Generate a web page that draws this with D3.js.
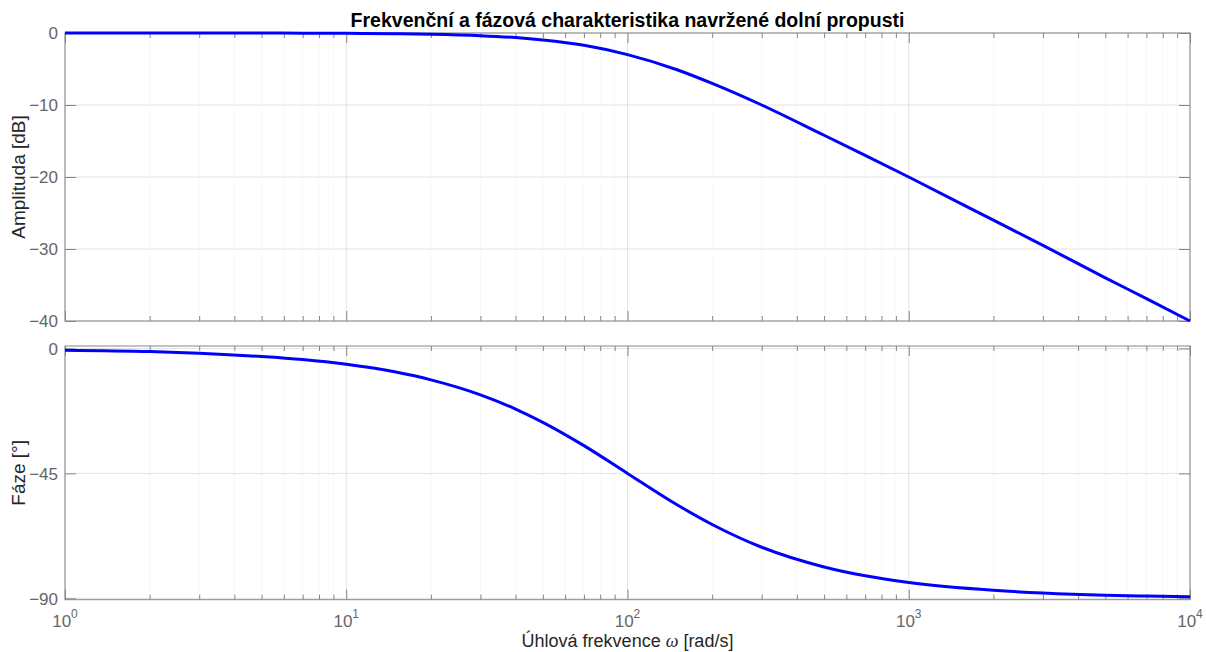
<!DOCTYPE html>
<html>
<head>
<meta charset="utf-8">
<script src="https://cdn.jsdelivr.net/npm/d3@7"></script>
<style>
  html, body { margin: 0; padding: 0; background: #fff; }
  svg { display: block; font-family: "Liberation Sans", Arial, Helvetica, sans-serif; }
</style>
</head>
<body>
<svg id="chart" width="1206" height="652"></svg>
<script>
// Frequency samples [rad/s] and the measured response of the low-pass filter
const omega = [1, 2, 3, 5, 7, 10, 15, 20, 30, 40, 50, 70, 100, 150, 200, 300, 500, 700,
               1000, 2000, 3000, 5000, 7000, 10000];
const amplitudeDb = [0, 0, 0, -0.01, -0.02, -0.04, -0.1, -0.17, -0.37, -0.64, -0.97, -1.7,
                     -3.0, -5.1, -7.0, -10.0, -14.2, -17.0, -20.0, -26.0, -29.5, -34.0, -36.9, -40.0];
const phaseDeg = [-0.6, -1.1, -1.7, -2.9, -4.0, -5.7, -8.5, -11.3, -16.7, -21.8, -26.6, -35.0,
                  -45.0, -56.3, -63.4, -71.6, -78.7, -81.9, -84.3, -87.1, -88.1, -88.9, -89.2, -89.4];

// Tick labels
const xDecades = [1, 10, 100, 1000, 10000];
const xDecadeExp = ["0", "1", "2", "3", "4"];
const ampTicks = [0, -10, -20, -30, -40];
const phaseTicks = [0, -45, -90];

const titleText = "Frekvenční a fázová charakteristika navržené dolní propusti";
const ampLabel = "Amplituda [dB]";
const phaseLabel = "Fáze [°]";

const svg = d3.select("#chart");

const left = 65, right = 1190;
const x = d3.scaleLog().domain([1, 1e4]).range([left, right]);
const yA = d3.scaleLinear().domain([-40, 0]).range([321, 33]);
const yP = d3.scaleLinear().domain([-90.5, 0.9]).range([599.7, 346]);

// minor log ticks 2..9 inside every decade
const minorX = [];
for (let d = 0; d < 4; d++) for (let m = 2; m <= 9; m++) minorX.push(m * Math.pow(10, d));

const frameColor = "#858585";
const tickTextColor = "#666666";
const labelColor = "#262626";

function panel(y, yTicks) {
  const [yb, yt] = y.range();
  const g = svg.append("g");

  // grid
  g.selectAll(".gmin").data(minorX).join("line")
    .attr("x1", d => x(d)).attr("x2", d => x(d))
    .attr("y1", yt).attr("y2", yb)
    .attr("stroke", "#e4e4e4").attr("stroke-width", 1)
    .attr("stroke-dasharray", "1,3");
  g.selectAll(".gmaj").data(xDecades).join("line")
    .attr("x1", d => x(d)).attr("x2", d => x(d))
    .attr("y1", yt).attr("y2", yb)
    .attr("stroke", "#e3e3e3").attr("stroke-width", 1);
  g.selectAll(".gy").data(yTicks).join("line")
    .attr("x1", left).attr("x2", right)
    .attr("y1", d => y(d)).attr("y2", d => y(d))
    .attr("stroke", "#e3e3e3").attr("stroke-width", 1);

  // inward ticks on all four sides
  [
    d3.axisBottom(x).tickValues(xDecades).tickSize(-10).tickFormat(""),
    d3.axisBottom(x).tickValues(minorX).tickSize(-5).tickFormat(""),
  ].forEach(a => g.append("g").attr("transform", `translate(0,${yb})`).call(a));
  [
    d3.axisTop(x).tickValues(xDecades).tickSize(-10).tickFormat(""),
    d3.axisTop(x).tickValues(minorX).tickSize(-5).tickFormat(""),
  ].forEach(a => g.append("g").attr("transform", `translate(0,${yt})`).call(a));
  g.append("g").attr("transform", `translate(${left},0)`)
    .call(d3.axisLeft(y).tickValues(yTicks).tickSize(-11).tickFormat(d3.format("d")));
  g.append("g").attr("transform", `translate(${right},0)`)
    .call(d3.axisRight(y).tickValues(yTicks).tickSize(-11).tickFormat(""));

  g.selectAll(".domain").remove();
  g.selectAll(".tick line").attr("stroke", frameColor).attr("stroke-width", 1);
  g.selectAll(".tick text").attr("fill", tickTextColor)
    .style("font-size", "17px").style("font-family", "'Liberation Sans', Arial, sans-serif")
    .attr("x", -7).attr("text-anchor", "end").attr("dy", "0.35em");

  // box
  g.append("rect").attr("x", left).attr("y", yt)
    .attr("width", right - left).attr("height", yb - yt)
    .attr("fill", "none").attr("stroke", frameColor).attr("stroke-width", 1);
  return g;
}

panel(yA, ampTicks);
panel(yP, phaseTicks);

const pts = omega.map((w, i) => ({ w, a: amplitudeDb[i], p: phaseDeg[i] }));

svg.append("path").datum(pts)
  .attr("fill", "none").attr("stroke", "#0000ff").attr("stroke-width", 3)
  .attr("stroke-linejoin", "round")
  .attr("d", d3.line().x(d => x(d.w)).y(d => yA(d.a)).curve(d3.curveMonotoneX));

svg.append("path").datum(pts)
  .attr("fill", "none").attr("stroke", "#0000ff").attr("stroke-width", 3)
  .attr("stroke-linejoin", "round")
  .attr("d", d3.line().x(d => x(d.w)).y(d => yP(d.p)).curve(d3.curveMonotoneX));

// x tick labels 10^n
const xl = svg.append("g");
xDecades.forEach((v, i) => {
  const t = xl.append("text")
    .attr("x", x(v)).attr("y", 627)
    .attr("text-anchor", "middle").attr("fill", tickTextColor)
    .style("font-size", "17px");
  t.append("tspan").text("10");
  t.append("tspan").attr("dy", -9).style("font-size", "12px").text(xDecadeExp[i]);
});

// title
svg.append("text").attr("x", (left + right) / 2).attr("y", 27)
  .attr("text-anchor", "middle").attr("fill", "#000")
  .style("font-size", "19.5px").style("font-weight", "bold")
  .text(titleText);

// axis labels
const xlab = svg.append("text").attr("x", (left + right) / 2).attr("y", 647)
  .attr("text-anchor", "middle").attr("fill", labelColor)
  .style("font-size", "18px");
xlab.append("tspan").text("Úhlová frekvence ");
xlab.append("tspan").style("font-style", "italic").style("font-family", "'Liberation Serif', 'Times New Roman', serif").text("ω");
xlab.append("tspan").text(" [rad/s]");

svg.append("text")
  .attr("transform", `translate(25,${(yA.range()[0] + yA.range()[1]) / 2}) rotate(-90)`)
  .attr("text-anchor", "middle").attr("fill", labelColor)
  .style("font-size", "19px").text(ampLabel);

svg.append("text")
  .attr("transform", `translate(25,${(yP.range()[0] + yP.range()[1]) / 2}) rotate(-90)`)
  .attr("text-anchor", "middle").attr("fill", labelColor)
  .style("font-size", "19px").text(phaseLabel);
</script>
</body>
</html>
